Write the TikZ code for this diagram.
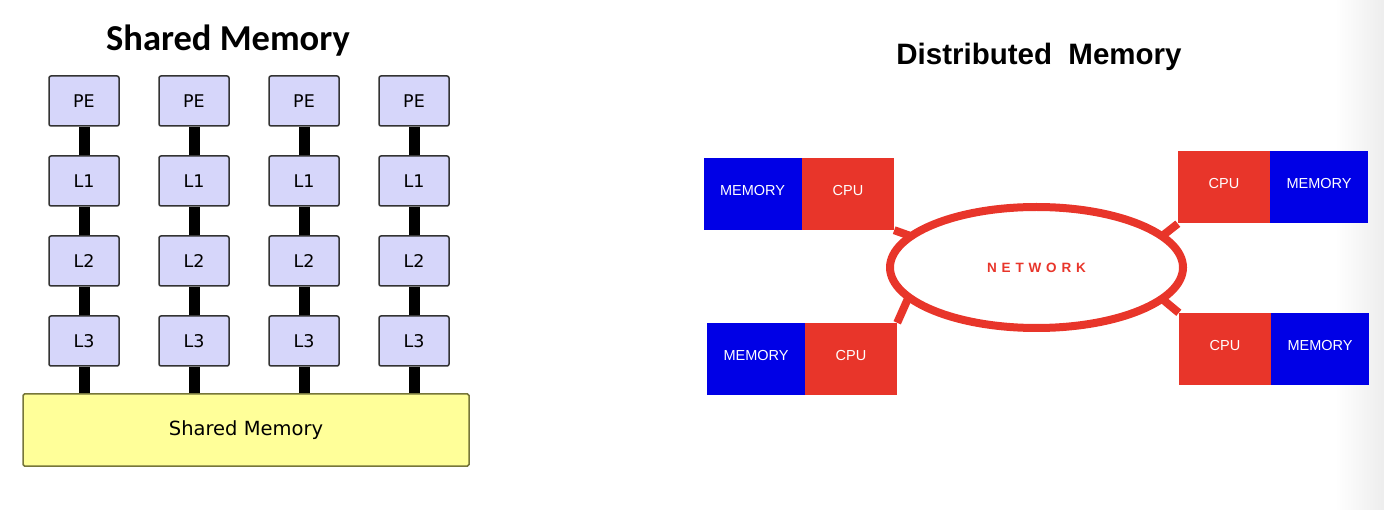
\documentclass[tikz,border=0pt]{standalone}
\usepackage{fontspec}
\setmainfont{DejaVu Sans}
\newfontfamily\titlefont{Carlito}
\newfontfamily\pixfont{Liberation Sans}
\newfontfamily\netfont[LetterSpace=36]{Liberation Sans}
\usetikzlibrary{shapes.geometric}
\definecolor{pefill}{HTML}{D6D6FA}
\definecolor{smfill}{HTML}{FFFF99}
\definecolor{smdraw}{HTML}{76763A}
\definecolor{memblue}{HTML}{0000E6}
\definecolor{cpured}{HTML}{E8352A}
\tikzset{
  cachebox/.style={draw=black!80, fill=pefill, line width=1.5pt, rounded corners=2pt,
    minimum width=70, minimum height=50, inner sep=0pt,
    font=\fontsize{17.5}{17.5}\selectfont},
  bus/.style={line width=11pt, black},
  membox/.style={fill=memblue, text=white, minimum width=98, minimum height=72, inner sep=0pt,
    text depth=8pt, font=\pixfont\fontsize{14.5}{14.5}\selectfont},
  cpubox/.style={fill=cpured, text=white, minimum width=92, minimum height=72, inner sep=0pt,
    text depth=8pt, font=\pixfont\fontsize{14.5}{14.5}\selectfont},
  netlink/.style={line width=8pt, cpured}
}
\begin{document}
\begin{tikzpicture}[x=1pt,y=-1pt]
\useasboundingbox (0,0) rectangle (1384,510);
\shade[left color=white, right color=black!7] (1335,0) rectangle (1384,510);

% ---------- Shared memory ----------
\node (stitle) at (228,41) {\titlefont\bfseries\fontsize{36.5}{36.5}\selectfont Shared Memory};
\node[draw=smdraw, fill=smfill, line width=1.5pt, rounded corners=1.5pt,
  minimum width=446, minimum height=72, inner sep=0pt,
  font=\fontsize{19.5}{19.5}\selectfont] (sm) at (246,430) {Shared Memory};

\foreach \i/\x in {1/84,2/194,3/304,4/414}{
  \node[cachebox] (pe\i) at (\x,101) {PE};
  \node[cachebox] (la\i) at (\x,181) {L1};
  \node[cachebox] (lb\i) at (\x,261) {L2};
  \node[cachebox] (lc\i) at (\x,341) {L3};
  \draw[bus] (pe\i) -- (la\i);
  \draw[bus] (la\i) -- (lb\i);
  \draw[bus] (lb\i) -- (lc\i);
  \draw[bus] (lc\i.south) -- (lc\i.south |- sm.north);
}

% ---------- Distributed memory ----------
\node (dtitle) at (1039,57) {\pixfont\bfseries\fontsize{29.5}{29.5}\selectfont Distributed\ \ Memory};

\node[draw=cpured, line width=8pt, ellipse, minimum width=293, minimum height=121,
  inner sep=0pt, outer sep=0pt, text=cpured,
  font=\netfont\bfseries\fontsize{13.5}{13.5}\selectfont] (net) at (1036.5,267.5) {NETWORK};

\node[membox] (memA) at (752.5,194) {MEMORY};
\node[cpubox] (cpuA) at (848,194) {CPU};
\node[membox] (memB) at (756,359) {MEMORY};
\node[cpubox] (cpuB) at (851,359) {CPU};
\node[cpubox] (cpuC) at (1224,187.5) {CPU};
\node[membox] (memC) at (1319,187.5) {MEMORY};
\node[cpubox] (cpuD) at (1225,349) {CPU};
\node[membox] (memD) at (1320,349) {MEMORY};

\draw[netlink] (cpuA.south east) -- (net.166);
\draw[netlink] (cpuB.north east) -- (net.193);
\draw[netlink] (cpuC.south west) -- (net.14);
\draw[netlink] (cpuD.north west) -- (net.-14);
\end{tikzpicture}
\end{document}
